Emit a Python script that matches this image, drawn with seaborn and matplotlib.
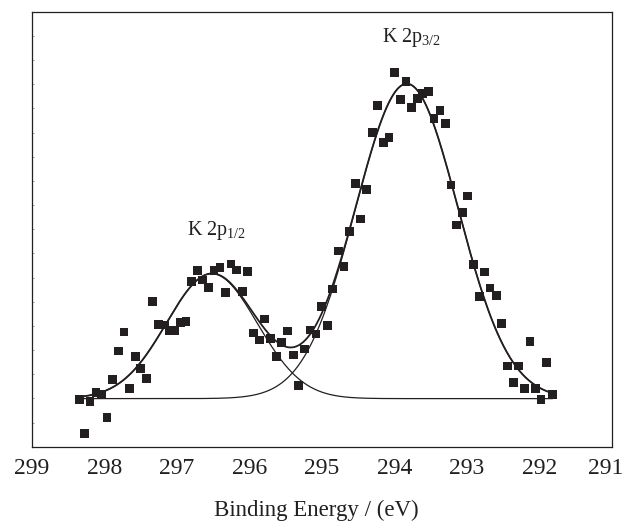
import numpy as np
import pandas as pd
import matplotlib
matplotlib.use("Agg")
import matplotlib.pyplot as plt
import matplotlib.transforms as mtransforms
import seaborn as sns
from matplotlib.ticker import MultipleLocator, NullFormatter

# ---- measured data (binding energy in eV, intensity in arbitrary units) ----
binding_energy = [
    298.348, 298.279, 298.200, 298.117, 298.039, 297.966, 297.887, 297.810, 297.731, 297.658,
    297.575, 297.501, 297.418, 297.341, 297.258, 297.175, 297.106, 297.028, 296.949, 296.876,
    296.797, 296.720, 296.646, 296.568, 296.490, 296.407, 296.334, 296.255, 296.177, 296.099,
    296.025, 295.948, 295.865, 295.796, 295.708, 295.625, 295.556, 295.473, 295.396, 295.321,
    295.244, 295.166, 295.083, 295.004, 294.927, 294.852, 294.775, 294.697, 294.623, 294.541,
    294.466, 294.389, 294.306, 294.232, 294.154, 294.076, 293.997, 293.920, 293.841, 293.763,
    293.685, 293.611, 293.534, 293.455, 293.372, 293.299, 293.221, 293.142, 293.065, 292.990,
    292.913, 292.830, 292.756, 292.683, 292.596, 292.521, 292.444, 292.361, 292.287, 292.210,
    292.131, 292.052, 291.979, 291.901, 291.823,
]
intensity = [
    0.938, -0.438, 0.868, 1.240, 1.145, 0.207, 1.765, 2.964, 3.750, 1.393,
    2.728, 2.232, 1.819, 5.019, 4.068, 4.039, 3.803, 3.803, 4.134, 4.175,
    5.845, 6.284, 5.899, 5.581, 6.284, 6.408, 5.374, 6.561, 6.313, 5.416,
    6.242, 3.708, 3.419, 4.287, 3.489, 2.728, 3.307, 3.791, 2.799, 1.530,
    3.047, 3.832, 3.667, 4.795, 4.010, 5.527, 7.098, 6.449, 7.896, 9.897,
    8.421, 9.649, 12.017, 13.134, 11.575, 11.811, 14.469, 13.369, 14.126, 13.022,
    13.411, 13.617, 13.683, 12.584, 12.898, 12.377, 9.826, 8.173, 8.698, 9.372,
    6.548, 5.209, 6.230, 5.568, 5.250, 4.109, 2.344, 1.670, 2.344, 1.393,
    3.348, 1.393, 0.938, 2.480, 1.174,
]

# ---- fitted components (Gaussian peaks on a flat background) ----
peak_labels = ["K 2p$_\\mathregular{1/2}$", "K 2p$_\\mathregular{3/2}$"]
peak_centers = [296.52, 293.83]
peak_heights = [5.17, 13.03]
peak_fwhm = [1.47, 1.66]
background = 0.99
fit_range = [298.35, 291.82]

x_ticks = [299, 298, 297, 296, 295, 294, 293, 292, 291]

sns.set_style("white")
plt.rcParams["font.family"] = ["Liberation Serif", "DejaVu Serif"]
plt.rcParams["mathtext.fontset"] = "custom"
plt.rcParams["mathtext.rm"] = "Liberation Serif"
plt.rcParams["mathtext.it"] = "Liberation Serif:italic"

ink = "#231f20"

fig = plt.figure(figsize=(6.24, 5.21), dpi=100)
ax = fig.add_axes([0.0513, 0.1426, 0.9295, 0.8349])

# fit curves
xf = np.linspace(fit_range[0], fit_range[1], 600)
comps = []
for c, h, w in zip(peak_centers, peak_heights, peak_fwhm):
    s = w / (2 * np.sqrt(2 * np.log(2)))
    comps.append(h * np.exp(-(xf - c) ** 2 / (2 * s ** 2)))
curves = pd.DataFrame({
    "x": np.concatenate([xf, xf, xf]),
    "y": np.concatenate([background + comps[0], background + comps[1],
                         background + comps[0] + comps[1]]),
    "curve": ["p1"] * len(xf) + ["p2"] * len(xf) + ["sum"] * len(xf),
})
for name, lw in [("p1", 0.9), ("p2", 0.9), ("sum", 1.3)]:
    sns.lineplot(data=curves[curves["curve"] == name], x="x", y="y", ax=ax,
                 color=ink, linewidth=lw, sort=False, estimator=None, legend=False)

# data points
pts = pd.DataFrame({"be": binding_energy, "I": intensity})
sns.scatterplot(data=pts, x="be", y="I", ax=ax, marker="s", s=40,
                color=ink, edgecolor="none", linewidth=0, zorder=3, legend=False)

# labels for peaks
ax.text(296.866, 7.76, peak_labels[0], fontsize=14.5, ha="left", va="baseline", color=ink)
ax.text(294.176, 15.75, peak_labels[1], fontsize=14.5, ha="left", va="baseline", color=ink)

ax.set_xlim(299, 291)
ax.set_ylim(-1, 17)
ax.set_xticks(x_ticks)
ax.set_xticklabels([str(t) for t in x_ticks])
ax.xaxis.set_minor_locator(MultipleLocator(0.5))
ax.yaxis.set_major_locator(MultipleLocator(1))
ax.yaxis.set_major_formatter(NullFormatter())
ax.tick_params(axis="x", which="major", direction="in", length=6.5, width=0.8,
               labelsize=17, pad=8, colors=ink, top=False)
ax.tick_params(axis="x", which="minor", direction="in", length=3, width=0.8,
               colors=ink, top=False)
ax.tick_params(axis="y", which="major", direction="in", length=1.5, width=0.6,
               color="#888888", left=True, right=False)
for sp in ax.spines.values():
    sp.set_visible(True)
    sp.set_color(ink)
    sp.set_linewidth(0.9)

# keep the last tick label inside the figure
last = ax.get_xticklabels()[-1]
last.set_transform(last.get_transform() +
                   mtransforms.ScaledTranslation(-6 / 100, 0, fig.dpi_scale_trans))

ax.set_xlabel("Binding Energy / (eV)", fontsize=16.5, color=ink, labelpad=14)
ax.xaxis.set_label_coords(0.49, -0.123)
ax.set_ylabel("")

fig.savefig("out.png", dpi=100, facecolor="white")
